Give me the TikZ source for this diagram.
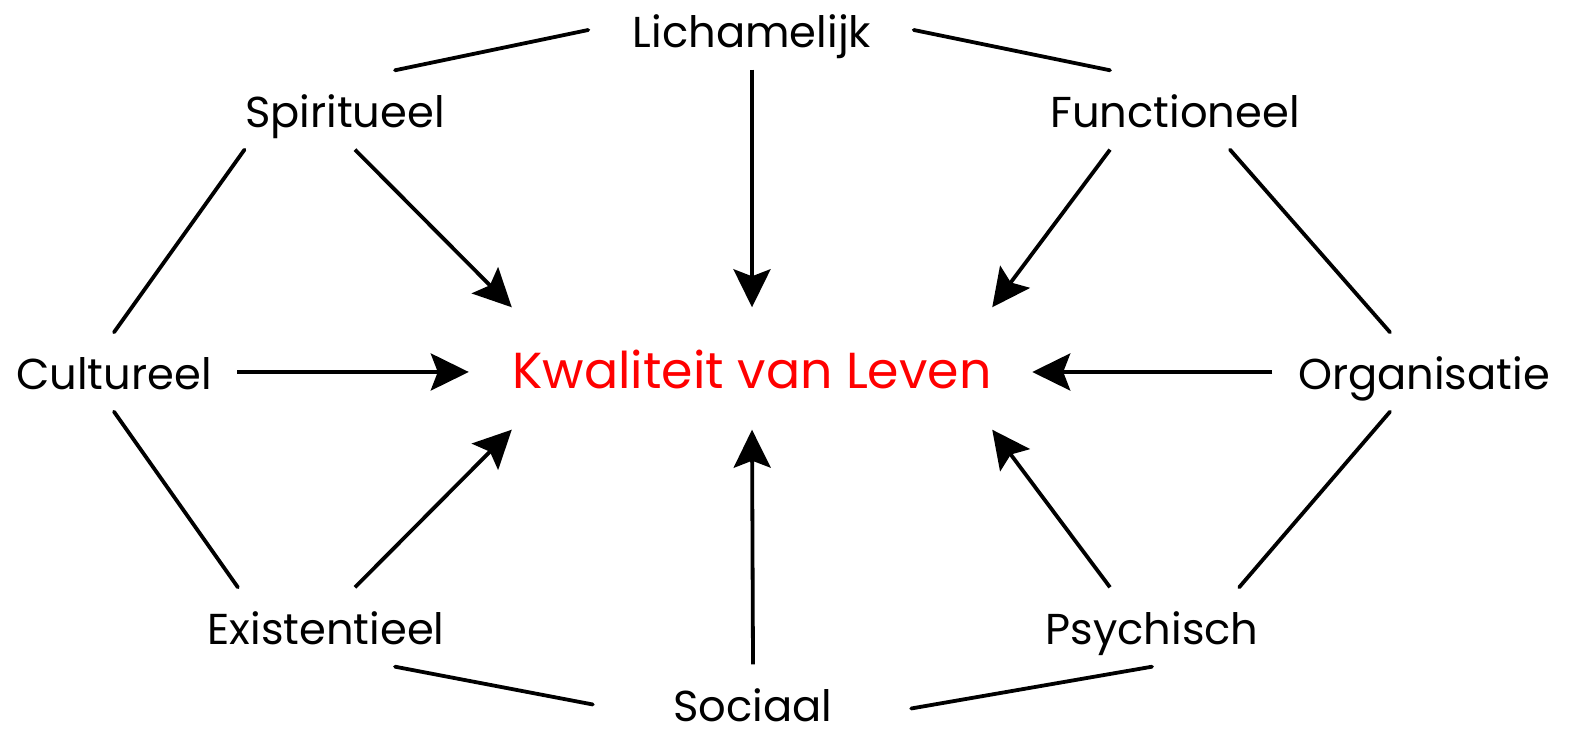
\documentclass[tikz,border=0pt]{standalone}
\usepackage{fontspec}
\setmainfont{Poppins}
\usetikzlibrary{arrows.meta}

\begin{document}
\begin{tikzpicture}[x=1mm, y=1mm,
  lbl/.style={inner sep=0pt, anchor=base, text height=5.7mm, text depth=2.1mm, font=\fontsize{12.3}{15}\selectfont},
  hub/.style={inner sep=0pt, anchor=base, text height=8.1mm, text depth=4mm, text=red, font=\fontsize{14.4}{18}\selectfont},
  link/.style={line width=0.38mm, line cap=round},
  feed/.style={line width=0.38mm, -{Stealth[length=3.8mm,width=3.7mm,inset=0.7mm]}}]
\useasboundingbox (0,0) rectangle (157.4,-73.2);
% nodes
\node [hub] (kval) at (75.2,-38.9) {Kwaliteit van Leven};
\node [lbl] (licha) at (75.2,-4.8) {Lichamelijk};
\node [lbl] (spir) at (34.5,-12.8) {Spiritueel};
\node [lbl] (func) at (117.5,-12.8) {Functioneel};
\node [lbl] (cult) at (11.4,-39.0) {Cultureel};
\node [lbl] (org) at (142.4,-39.0) {Organisatie};
\node [lbl] (exist) at (32.6,-64.5) {Existentieel};
\node [lbl] (psych) at (115.2,-64.5) {Psychisch};
\node [lbl, text depth=1mm] (soc) at (75.3,-72.2) {Sociaal};
% outer ring
\draw [link] ([xshift=5mm]spir.north) -- ([xshift=-4.4mm]licha.west);
\draw [link] ([xshift=4.2mm]licha.east) -- ([xshift=-6.5mm]func.north);
\draw [link] (spir.south west) -- (cult.north);
\draw [link] ([xshift=5.5mm]func.south) -- ([xshift=-3.4mm]org.north);
\draw [link] (cult.south) -- ([xshift=3.1mm]exist.north west);
\draw [link] ([xshift=-3.4mm]org.south) -- ([xshift=-2mm]psych.north east);
\draw [link] ([xshift=6.9mm]exist.south) -- ([xshift=-8mm,yshift=-0.6mm]soc.west);
\draw [link] ([xshift=7.8mm,yshift=-1mm]soc.east) -- (psych.south);
% arrows to the middle
\draw [feed] (licha.south) -- (kval.north);
\draw [feed] ([xshift=1mm]spir.south) -- (kval.north west);
\draw [feed] ([xshift=-6.5mm]func.south) -- (kval.north east);
\draw [feed] ([xshift=2.5mm]cult.east) -- ([xshift=-4.3mm]kval.west |- cult.east);
\draw [feed] ([xshift=-2.5mm]org.west) -- ([xshift=4mm]kval.east |- org.west);
\draw [feed] ([xshift=2.9mm]exist.north) -- (kval.south west);
\draw [feed] (soc.north) -- (kval.south);
\draw [feed] ([xshift=-4.2mm]psych.north) -- (kval.south east);
\end{tikzpicture}
\end{document}
